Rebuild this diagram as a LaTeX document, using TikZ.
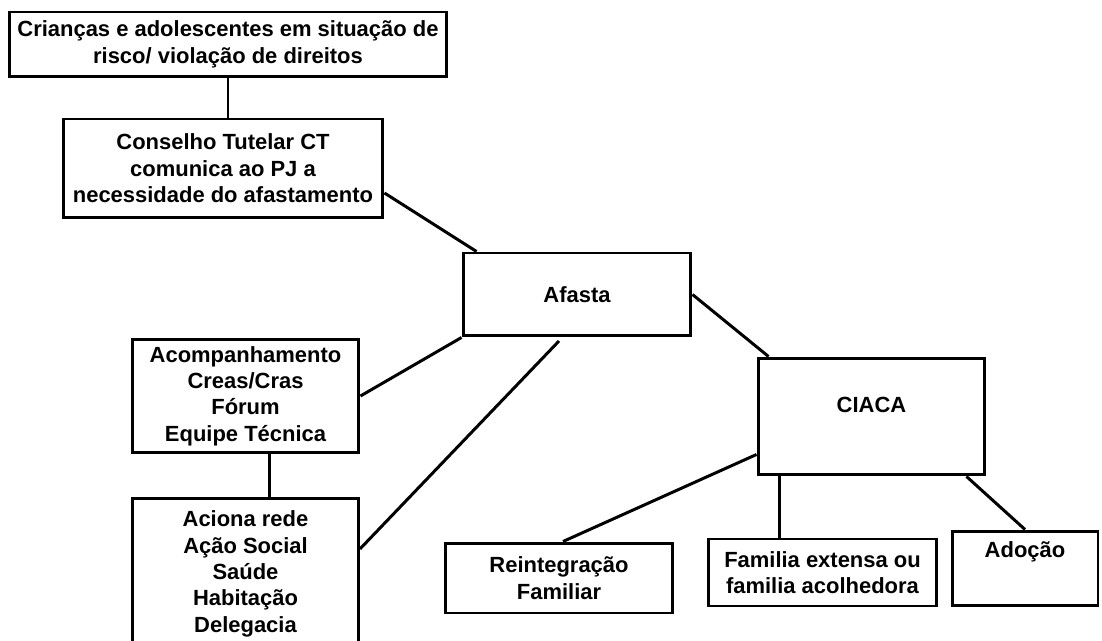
\documentclass[tikz,border=0pt]{standalone}
\usepackage{fontspec}
\setmainfont{Liberation Sans}
\usetikzlibrary{positioning}
\usetikzlibrary{calc}
\tikzset{caixa/.style={draw, line width=1.7pt, align=center, inner sep=2pt, font=\bfseries\fontsize{12.5}{15}\selectfont}}
\tikzset{liga/.style={line width=1.7pt}}

\begin{document}
\begin{tikzpicture}[x=0.02cm, y=-0.02cm]
\clip (0,0) rectangle (1102,641);
\fill[white] (0,0) rectangle (1102,641);
\node[caixa, minimum width=8.76cm, minimum height=1.3cm] (risco) at (228,44.5) {Crianças e adolescentes em situação de\\risco/ violação de direitos};
\node[caixa, minimum width=6.4cm, minimum height=1.98cm] (ct) at (223,168.5) {Conselho Tutelar CT\\comunica ao PJ a\\necessidade do afastamento};
\node[caixa, minimum width=4.56cm, minimum height=1.66cm] (afasta) at (577,294.5) {Afasta};
\node[caixa, minimum width=4.54cm, minimum height=2.28cm] (acomp) at (245.5,396) {Acompanhamento\\Creas/Cras\\Fórum\\Equipe Técnica};
\node[caixa, minimum width=4.52cm, minimum height=3cm, below=0.86cm of acomp] (rede) {Aciona rede\\Ação Social\\Saúde\\Habitação\\Delegacia};
\node[caixa, minimum width=4.54cm, minimum height=2.34cm, text height=9pt, text depth=13pt] (ciaca) at (871.5,416.5) {CIACA};
\node[caixa, minimum width=4.56cm, minimum height=1.4cm] (reint) at (559,578) {Reintegração\\Familiar};
\node[caixa, minimum width=4.58cm, minimum height=1.34cm] (extensa) at (822.5,572.5) {Familia extensa ou\\familia acolhedora};
\node[caixa, minimum width=2.92cm, minimum height=1.5cm, text height=9pt, text depth=22pt] (adocao) at (1025,568.5) {Adoção};
%
\coordinate (f1) at (559,341);
\coordinate (a1) at ($(acomp.south)+(24,0)$);
\coordinate (a2) at ($(ciaca.south west)+(23,0)$);

\draw[liga] (risco.south) -- (risco.south |- ct.north);
\draw[liga] ($(ct.east)+(0,24.5)$) -- ($(afasta.north west)+(15,0)$);
\draw[liga] (afasta.east) -- ($(ciaca.north west)+(12,0)$);
\draw[liga] (afasta.south west) -- (acomp.east);
\draw[liga] (f1) -- ($(rede.east)+(0,-25)$);
\draw[liga] (a1) -- (a1 |- rede.north);
\draw[liga] ($(ciaca.south west)+(0,-22)$) -- ($(reint.north)+(4,0)$);
\draw[liga] (a2) -- (a2 |- extensa.north);
\draw[liga] ($(ciaca.south east)+(-20,0)$) -- (adocao.north);
\end{tikzpicture}
\end{document}
